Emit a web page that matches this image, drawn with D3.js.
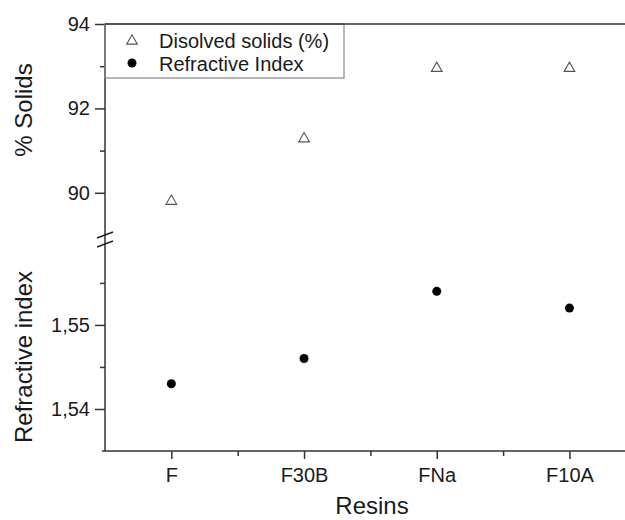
<!DOCTYPE html>
<meta charset="utf-8">
<style>

body {
  margin: 0;
  background: #fff;
}

text {
  font-family: "Liberation Sans", Arial, sans-serif;
  fill: #1a1a1a;
}

.axis path,
.axis line {
  stroke: #333;
  stroke-width: 1.5px;
}

</style>
<body>
<script src="https://cdn.jsdelivr.net/npm/d3@7"></script>
<script>

var resins = ["F", "F30B", "FNa", "F10A"];
var solids = [89.8, 91.28, 92.95, 92.95];
var refIndex = [1.543, 1.546, 1.554, 1.552];
var solidTicks = [90, 92, 94];
var solidMinor = [91, 93];
var refTicks = [1.54, 1.55];
var refMinor = [1.545, 1.555];

var w = 625,
    h = 520,
    x0 = 105,
    yTopEdge = 24,
    yBreak = 235,
    yBottom = 451;

var comma = d3.formatLocale({decimal: ",", thousands: ".", grouping: [3], currency: ["", ""]});

var svg = d3.select("body").append("svg")
    .attr("width", w)
    .attr("height", h);

var x = d3.scaleLinear()
    .domain([0.5, resins.length + 0.5])
    .range([x0, x0 + 4 * 132.7]);

var yTop = d3.scaleLinear()
    .domain([89, 94])
    .range([yBreak, yTopEdge]);

var yBot = d3.scaleLinear()
    .domain([1.535, 1.5607])
    .range([yBottom, yBreak]);

// left axis line
svg.append("line")
    .attr("x1", x0).attr("x2", x0)
    .attr("y1", yTopEdge).attr("y2", yBottom)
    .style("stroke", "#333").style("stroke-width", 1.5);

// left axis, top part
svg.append("g")
    .attr("class", "axis")
    .attr("transform", "translate(" + x0 + ",0)")
    .call(d3.axisLeft(yTop).tickValues(solidTicks).tickSize(10).tickPadding(5).tickFormat(d3.format("d")))
    .call(function(g) { g.select(".domain").remove(); });

svg.append("g")
    .attr("class", "axis")
    .attr("transform", "translate(" + x0 + ",0)")
    .call(d3.axisLeft(yTop).tickValues(solidMinor).tickSize(5).tickFormat(""))
    .call(function(g) { g.select(".domain").remove(); });

// left axis, bottom part
svg.append("g")
    .attr("class", "axis")
    .attr("transform", "translate(" + x0 + ",0)")
    .call(d3.axisLeft(yBot).tickValues(refTicks).tickSize(10).tickPadding(5).tickFormat(comma.format(".2f")))
    .call(function(g) { g.select(".domain").remove(); });

svg.append("g")
    .attr("class", "axis")
    .attr("transform", "translate(" + x0 + ",0)")
    .call(d3.axisLeft(yBot).tickValues(refMinor).tickSize(5).tickFormat(""))
    .call(function(g) { g.select(".domain").remove(); });

// bottom axis
svg.append("g")
    .attr("class", "axis")
    .attr("transform", "translate(0," + yBottom + ")")
    .call(d3.axisBottom(x).tickValues(d3.range(1, resins.length + 1)).tickSize(8).tickPadding(9)
      .tickFormat(function(d) { return resins[d - 1]; }))
    .call(function(g) { g.select(".domain").attr("d", "M" + (x0 - 3) + ",0H" + w); });

svg.append("g")
    .attr("class", "axis")
    .attr("transform", "translate(0," + yBottom + ")")
    .call(d3.axisBottom(x).tickValues([1.5, 2.5, 3.5]).tickSize(5).tickFormat(""))
    .call(function(g) { g.select(".domain").remove(); });

svg.selectAll(".axis text")
    .style("font-size", "20px");

// axis break
[0, 9].forEach(function(o) {
  svg.append("line")
      .attr("x1", x0 - 8).attr("x2", x0 + 8)
      .attr("y1", yBreak + 3 + o).attr("y2", yBreak - 3 + o)
      .style("stroke", "#222").style("stroke-width", 1.5);
});

// legend box
svg.append("rect")
    .attr("x", x0).attr("y", yTopEdge)
    .attr("width", 239).attr("height", 54)
    .style("fill", "none").style("stroke", "#888").style("stroke-width", 1.2);

// top frame line
svg.append("line")
    .attr("x1", x0).attr("x2", w)
    .attr("y1", yTopEdge).attr("y2", yTopEdge)
    .style("stroke", "#333").style("stroke-width", 1.5);

var tri = d3.symbol().type(d3.symbolTriangle).size(50);

svg.append("path")
    .attr("d", tri)
    .attr("transform", "translate(132,41)")
    .style("fill", "none").style("stroke", "#555").style("stroke-width", 1.1);

svg.append("circle")
    .attr("cx", 132).attr("cy", 63).attr("r", 4.5)
    .style("fill", "#000");

svg.append("text")
    .attr("x", 159).attr("y", 48)
    .style("font-size", "20px")
    .text("Disolved solids (%)");

svg.append("text")
    .attr("x", 159).attr("y", 71)
    .style("font-size", "20px")
    .text("Refractive Index");

// points
svg.selectAll(".solid")
    .data(solids)
  .enter().append("path")
    .attr("class", "solid")
    .attr("d", tri)
    .attr("transform", function(d, i) { return "translate(" + x(i + 1) + "," + yTop(d) + ")"; })
    .style("fill", "none").style("stroke", "#555").style("stroke-width", 1.1);

svg.selectAll(".ref")
    .data(refIndex)
  .enter().append("circle")
    .attr("class", "ref")
    .attr("cx", function(d, i) { return x(i + 1); })
    .attr("cy", function(d) { return yBot(d); })
    .attr("r", 4.5)
    .style("fill", "#000");

// axis titles
svg.append("text")
    .attr("transform", "translate(32,110) rotate(-90)")
    .attr("text-anchor", "middle")
    .style("font-size", "24px")
    .text("% Solids");

svg.append("text")
    .attr("transform", "translate(32,357) rotate(-90)")
    .attr("text-anchor", "middle")
    .style("font-size", "24px")
    .text("Refractive index");

svg.append("text")
    .attr("x", 372).attr("y", 514)
    .attr("text-anchor", "middle")
    .style("font-size", "24px")
    .text("Resins");

</script>
